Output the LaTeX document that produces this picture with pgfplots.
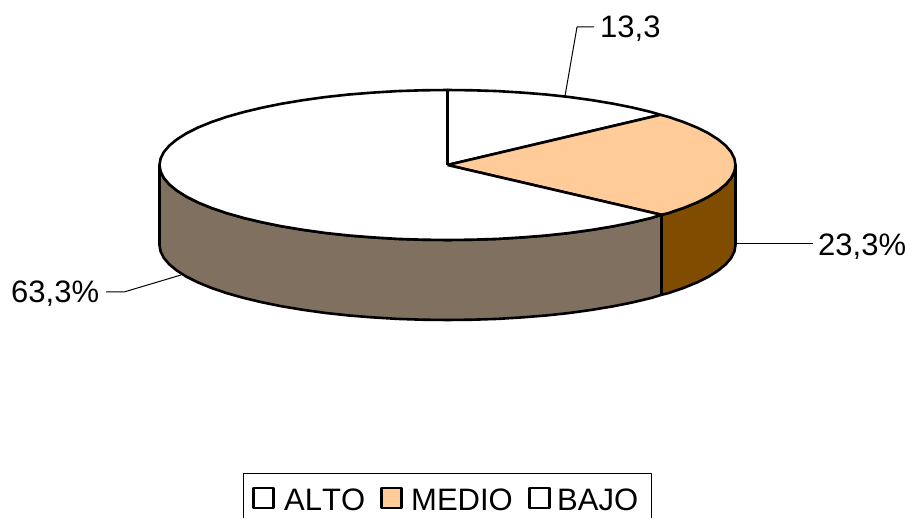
\documentclass[border=0pt]{standalone}
\usepackage{pgfplots}
\pgfplotsset{compat=1.18}
\usepackage{fontspec}
\setmainfont[Kerning=Off]{Liberation Sans}
\definecolor{peach}{HTML}{FFCC99}
\definecolor{sidebrown}{HTML}{804C00}
\definecolor{sidegrey}{HTML}{7F7060}
\begin{document}
\begin{tikzpicture}
\begin{axis}[
    hide axis,
    scale only axis,
    width=912pt,
    height=518pt,
    xmin=0, xmax=912,
    ymin=0, ymax=518,
    y dir=reverse,
    every axis plot/.append style={line join=round},
    nodes={font=\fontsize{31}{37}\selectfont, inner sep=0pt, text=black},
]
% keeps the page as large as the axis
\addplot[draw=none] coordinates {(0,0) (912,518)};
% sides of the pie, pixel coordinates of the reference
\addplot[fill=sidegrey, draw=black, line width=2.6pt] coordinates {
    (159.5,165) (160.6,171.5) (163.9,178) (169.3,184.4) (176.9,190.6) (186.5,196.7)
    (198.1,202.5) (211.6,208) (226.9,213.2) (243.9,218) (262.4,222.4) (282.3,226.4)
    (303.5,229.9) (325.8,233) (349,235.5) (373,237.4) (397.5,238.9) (422.4,239.7)
    (447.5,240) (472.6,239.7) (497.5,238.9) (522,237.4) (546,235.5) (569.2,233)
    (591.5,229.9) (612.7,226.4) (632.6,222.4) (651.1,218) (661.5,214.8)
    (661.5,294.8) (651.1,298) (632.6,302.4) (612.7,306.4) (591.5,309.9) (569.2,313)
    (546,315.5) (522,317.4) (497.5,318.9) (472.6,319.7) (447.5,320) (422.4,319.7)
    (397.5,318.9) (373,317.4) (349,315.5) (325.8,313) (303.5,309.9) (282.3,306.4)
    (262.4,302.4) (243.9,298) (226.9,293.2) (211.6,288) (198.1,282.5) (186.5,276.7)
    (176.9,270.6) (169.3,264.4) (163.9,258) (160.6,251.5) (159.5,245) (159.5,165)
};
\addplot[fill=sidebrown, draw=black, line width=2.6pt] coordinates {
    (661.5,214.8) (668.1,213.2) (683.4,208) (696.9,202.5) (708.5,196.7) (718.1,190.6)
    (725.7,184.4) (731.1,178) (734.4,171.5) (735.5,165)
    (735.5,245) (734.4,251.5) (731.1,258) (725.7,264.4) (718.1,270.6) (708.5,276.7)
    (696.9,282.5) (683.4,288) (668.1,293.2) (661.5,294.8) (661.5,214.8)
};
% top face: ALTO
\addplot[fill=white, draw=black, line width=2.6pt] coordinates {
    (447.5,165) (447.5,90) (472.6,90.3) (497.5,91.1) (522,92.6) (546,94.5) (569.2,97)
    (591.5,100.1) (612.7,103.6) (632.6,107.6) (651.1,112) (660.5,114.8) (447.5,165)
};
% top face: MEDIO
\addplot[fill=peach, draw=black, line width=2.6pt] coordinates {
    (447.5,165) (660.5,114.8) (668.1,116.8) (683.4,122) (696.9,127.5) (708.5,133.3)
    (718.1,139.4) (725.7,145.6) (731.1,152) (734.4,158.5) (735.5,165) (734.4,171.5)
    (731.1,178) (725.7,184.4) (718.1,190.6) (708.5,196.7) (696.9,202.5) (683.4,208)
    (668.1,213.2) (661.5,214.8) (447.5,165)
};
% top face: BAJO
\addplot[fill=white, draw=black, line width=2.6pt] coordinates {
    (447.5,165) (661.5,214.8) (651.1,218) (632.6,222.4) (612.7,226.4) (591.5,229.9)
    (569.2,233) (546,235.5) (522,237.4) (497.5,238.9) (472.6,239.7) (447.5,240)
    (422.4,239.7) (397.5,238.9) (373,237.4) (349,235.5) (325.8,233) (303.5,229.9)
    (282.3,226.4) (262.4,222.4) (243.9,218) (226.9,213.2) (211.6,208) (198.1,202.5)
    (186.5,196.7) (176.9,190.6) (169.3,184.4) (163.9,178) (160.6,171.5) (159.5,165)
    (160.6,158.5) (163.9,152) (169.3,145.6) (176.9,139.4) (186.5,133.3) (198.1,127.5)
    (211.6,122) (226.9,116.8) (243.9,112) (262.4,107.6) (282.3,103.6) (303.5,100.1)
    (325.8,97) (349,94.5) (373,92.6) (397.5,91.1) (422.4,90.3) (447.5,90) (447.5,165)
};
% leader lines
\addplot[black, line width=1pt] coordinates {(565,96) (577,27) (594,27)};
\addplot[black, line width=1pt] coordinates {(736,244) (813,244)};
\addplot[black, line width=1pt] coordinates {(181,275) (124,292) (106,292)};
% legend frame, open at the lower edge
\addplot[black, line width=1pt] coordinates {(243.5,518) (243.5,473.5) (651,473.5) (651,518)};
% legend keys
\addplot[only marks, mark=square*, mark size=10pt, mark options={fill=white, draw=black, line width=2.2pt}]
    coordinates {(263.5,498) (539.5,498)};
\addplot[only marks, mark=square*, mark size=10pt, mark options={fill=peach, draw=black, line width=2.2pt}]
    coordinates {(391.5,498)};
\node[anchor=base west] at (axis cs:600,38) {13,3};
\node[anchor=base west] at (axis cs:818,256) {23,3\%};
\node[anchor=base west] at (axis cs:11,303) {63,3\%};
\node[anchor=base west] at (axis cs:284,510) {ALTO};
\node[anchor=base west] at (axis cs:411,510) {MEDIO};
\node[anchor=base west] at (axis cs:557,510) {BAJO};
\end{axis}
\end{tikzpicture}
\end{document}
